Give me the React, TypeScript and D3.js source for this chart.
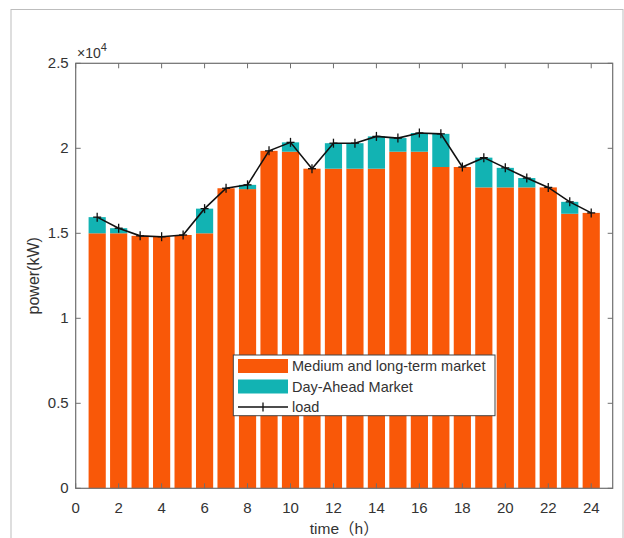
import React from "react";
import * as d3 from "d3";

const hours = [1,2,3,4,5,6,7,8,9,10,11,12,13,14,15,16,17,18,19,20,21,22,23,24];
const midLong = [15000,15000,14850,14800,14900,15000,17650,17600,19850,19800,18800,18800,18800,18800,19800,19800,18900,18900,17700,17700,17700,17700,16150,16200];
const dayAhead = [950,300,0,0,0,1450,0,250,0,550,0,1500,1500,1900,800,1100,1950,0,1750,1150,550,0,700,0];
const load = [15950,15300,14850,14800,14900,16450,17650,17850,19850,20350,18800,20300,20300,20700,20600,20900,20850,18900,19450,18850,18250,17700,16850,16200];
const xTicks = [0,2,4,6,8,10,12,14,16,18,20,22,24];
const yTicks = [0,5000,10000,15000,20000,25000];
const yTickLabels = ["0","0.5","1","1.5","2","2.5"];
const legendLabels = ["Medium and long-term market","Day-Ahead Market","load"];

const ORANGE = "#F95808";
const CYAN = "#12B3B3";
const AXIS = "#6e6e6e";
const TEXT = "#333";
const FONT = "'Liberation Sans', Arial, 'Noto Sans CJK SC', sans-serif";

export default function App() {
  const W = 624, H = 538;
  const L = 75.7, R = 612.7, T = 63.3, B = 488.3;
  const x = d3.scaleLinear().domain([0, 25]).range([L, R]);
  const y = d3.scaleLinear().domain([0, 25000]).range([B, T]);
  const bw = (x(1) - x(0)) * 0.8;
  const line = d3.line<number>().x((_, i) => x(hours[i])).y((d) => y(d));
  const tl = 5;
  return (
    <svg width={W} height={H} style={{ position: "absolute", left: 0, top: 0, display: "block" }} fontFamily={FONT}>
      <rect x={0} y={0} width={W} height={H} fill="#fff" />
      <rect x={11} y={9.5} width={612} height={540} fill="none" stroke="#bdbdbd" strokeWidth={1} />
      {hours.map((h, i) => (
        <g key={h}>
          <rect x={x(h) - bw / 2} y={y(midLong[i])} width={bw} height={y(0) - y(midLong[i])} fill={ORANGE} />
          {dayAhead[i] > 0 && (
            <rect x={x(h) - bw / 2} y={y(midLong[i] + dayAhead[i])} width={bw} height={y(midLong[i]) - y(midLong[i] + dayAhead[i])} fill={CYAN} />
          )}
        </g>
      ))}
      <path d={line(load) || ""} fill="none" stroke="#111" strokeWidth={1.6} />
      {load.map((v, i) => (
        <g key={i} stroke="#111" strokeWidth={1.3}>
          <line x1={x(hours[i]) - 4} x2={x(hours[i]) + 4} y1={y(v)} y2={y(v)} />
          <line x1={x(hours[i])} x2={x(hours[i])} y1={y(v) - 4.5} y2={y(v) + 4.5} />
        </g>
      ))}
      <rect x={L} y={T} width={R - L} height={B - T} fill="none" stroke={AXIS} strokeWidth={1.2} />
      {xTicks.map((t) => (
        <g key={t}>
          <line x1={x(t)} x2={x(t)} y1={B} y2={B - tl} stroke={AXIS} />
          <line x1={x(t)} x2={x(t)} y1={T} y2={T + tl} stroke={AXIS} />
          <text x={x(t)} y={B + 25} textAnchor="middle" fontSize={15} fill={TEXT}>{t}</text>
        </g>
      ))}
      {yTicks.map((t, i) => (
        <g key={t}>
          <line x1={L} x2={L + tl} y1={y(t)} y2={y(t)} stroke={AXIS} />
          <line x1={R} x2={R - tl} y1={y(t)} y2={y(t)} stroke={AXIS} />
          <text x={L - 7} y={y(t) + 5} textAnchor="end" fontSize={15} fill={TEXT}>{yTickLabels[i]}</text>
        </g>
      ))}
      <text x={77} y={T - 5} fontSize={14} fill={TEXT}>×10<tspan dy={-7} fontSize={11}>4</tspan></text>
      <text transform={`translate(${39},${(T + B) / 2}) rotate(-90)`} textAnchor="middle" fontSize={16} fill={TEXT}>power(kW)</text>
      <text x={(L + R) / 2} y={B + 46} textAnchor="middle" fontSize={15.5} fill={TEXT}>time（h）</text>
      <g>
        <rect x={233.3} y={355} width={261.7} height={60.7} fill="#fff" stroke="#444" strokeWidth={1} />
        <rect x={238} y={359} width={50} height={14} fill={ORANGE} />
        <rect x={238} y={379.5} width={50} height={14} fill={CYAN} />
        <line x1={238} x2={288} y1={407} y2={407} stroke="#111" strokeWidth={1.5} />
        <line x1={263} x2={263} y1={402.5} y2={411.5} stroke="#111" strokeWidth={1.3} />
        {legendLabels.map((s, i) => (
          <text key={s} x={292} y={371 + i * 20.5} fontSize={14.5} fill={TEXT}>{s}</text>
        ))}
      </g>
    </svg>
  );
}
